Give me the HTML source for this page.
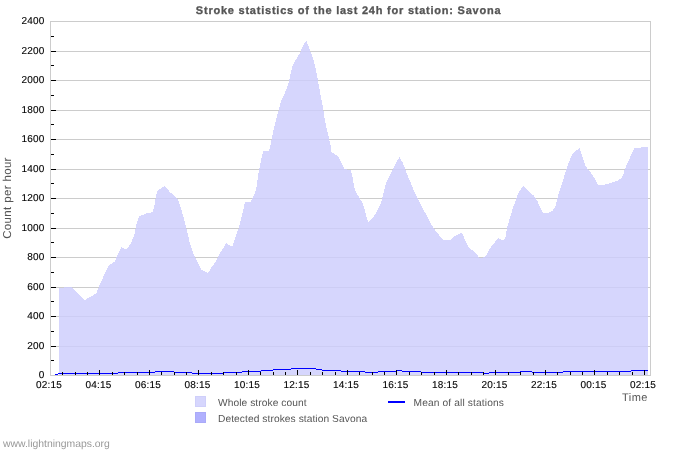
<!DOCTYPE html>
<html><head><meta charset="utf-8"><title>Stroke statistics</title>
<style>
html,body{margin:0;padding:0;background:#fff;}
body{width:700px;height:450px;overflow:hidden;position:relative;font-family:"Liberation Sans",sans-serif;}
svg{position:absolute;left:0;top:0;will-change:transform;text-rendering:geometricPrecision;}
text{font-family:"Liberation Sans",sans-serif;}
</style></head><body>
<svg width="700" height="450" viewBox="0 0 700 450">
<rect x="0" y="0" width="700" height="450" fill="#fff"/>
<g fill="#cccccc" shape-rendering="crispEdges"><rect x="51" y="51" width="599" height="1"/><rect x="51" y="80" width="599" height="1"/><rect x="51" y="110" width="599" height="1"/><rect x="51" y="139" width="599" height="1"/><rect x="51" y="169" width="599" height="1"/><rect x="51" y="198" width="599" height="1"/><rect x="51" y="228" width="599" height="1"/><rect x="51" y="257" width="599" height="1"/><rect x="51" y="287" width="599" height="1"/><rect x="51" y="316" width="599" height="1"/><rect x="51" y="346" width="599" height="1"/></g>
<polygon points="59,375 59,288 64.8,287.45 72,287 78,293.5 84.6,300.1 91.2,296.4 95.5,293.8 97,292 98.1,288.5 102,279.8 105.9,271.2 109,265.2 114.5,261.9 118.3,253.3 121.3,247.1 124.5,248.5 127.3,248.7 131.3,242.3 134.5,234.2 136.7,223.5 139,216.5 143.7,214.5 146.8,213 152.5,212.3 154.5,204.9 156.8,192.3 158.4,190.1 162.3,187.5 164.4,185.8 170,192.2 174.4,195.6 177.2,198.3 178.3,200 180,205 182.2,212.8 184.4,220.6 186.1,227.2 187.8,233.9 189.9,243.3 193.6,254.3 197.2,261.7 201.5,269.6 204.6,271.2 208,272.9 211.3,267.8 215.6,261.7 220.5,252.5 226.3,243.1 230.2,245.8 232.7,246 234.7,239.3 238.7,228 242,215.3 245,202.3 250.7,202 252.7,198 256,190 259,170 263,151.4 269,150.7 270.6,144.4 273.7,128.9 277.6,114.1 280.7,102.4 282.2,98.9 284.4,93.9 286.7,88.3 288.9,81.7 290,76.7 292.2,66.7 293.9,62.8 295.6,60 297.8,56.7 300,53 303.1,45.1 306.5,40.9 309.3,48.2 312.4,56.8 314.8,64.5 316.8,73.9 318.7,84.8 321,97.2 323,107 325,121 328.9,138.1 330.4,144.3 331.5,152.1 334.3,154 337.4,156 339.8,159.1 342.1,164.5 344.4,169.2 350.7,170 352.2,175.4 354.5,187.9 356.2,192.5 359,197.3 361.7,201.3 363.7,206 365.7,214 368.1,222 372.3,218 375.7,214 378.3,208.7 381,203.3 383,195.3 385.9,183.2 399.3,157 402.7,162.7 406,171.3 410,181.3 414,190.7 417.3,198 419,200.7 423.7,210 428.3,218.7 432.3,226.2 435.7,231.2 439.7,235.9 443,240 450.3,240 455,236 461.8,232.8 463.4,236 465.5,241 468,246.5 470,248.5 472,250 475,252.5 478,256 480,258.5 482,258 484.5,257 487,254 489,250 491.5,246 495,242 498.5,238 502,240 504,240.5 505.5,237.2 507,228 509.3,220.2 512.5,209.2 516.4,198.3 518.7,192.1 523.4,186 528.3,190.9 534.1,196 537,200.3 539.9,206.8 542.7,212.6 549.2,212.7 553,210.2 555.7,205.8 558.3,195.1 562.8,180.9 567.2,166.7 571.7,155.1 574.3,152.4 579.4,148 582.3,156.5 585,164.7 587,168 592.3,174.7 595,179.3 598.3,185 603.3,184.8 609.7,183.3 615,181.5 617.7,180.7 621.3,178.3 623.3,174.5 624.5,170.5 626,166.3 628,161.5 630,157.5 632.3,152.5 634.3,148.2 640.3,147.7 641.7,147.1 648,147.1 648,375" fill="#cdcdfd" fill-opacity="0.82" shape-rendering="crispEdges"/>
<g fill="#cccccc" shape-rendering="crispEdges">
<rect x="50" y="21" width="601" height="1"/><rect x="50" y="375" width="601" height="1"/>
<rect x="50" y="21" width="1" height="355"/><rect x="650" y="21" width="1" height="355"/>
</g>
<g fill="#0000ff" shape-rendering="crispEdges"><rect x="55" y="374" width="3" height="1"/><rect x="58" y="373" width="60" height="1"/><rect x="118" y="372" width="37" height="1"/><rect x="155" y="371" width="19" height="1"/><rect x="174" y="372" width="18" height="1"/><rect x="192" y="373" width="31" height="1"/><rect x="223" y="372" width="19" height="1"/><rect x="242" y="371" width="19" height="1"/><rect x="261" y="370" width="12" height="1"/><rect x="273" y="369" width="18" height="1"/><rect x="291" y="368" width="25" height="1"/><rect x="316" y="369" width="6" height="1"/><rect x="322" y="370" width="19" height="1"/><rect x="341" y="371" width="24" height="1"/><rect x="365" y="372" width="13" height="1"/><rect x="378" y="371" width="19" height="1"/><rect x="397" y="370" width="5" height="1"/><rect x="402" y="371" width="19" height="1"/><rect x="421" y="372" width="63" height="1"/><rect x="484" y="373" width="5" height="1"/><rect x="489" y="372" width="31" height="1"/><rect x="520" y="371" width="12" height="1"/><rect x="532" y="372" width="31" height="1"/><rect x="563" y="371" width="68" height="1"/><rect x="631" y="370" width="17" height="1"/></g>
<g fill="#000" shape-rendering="crispEdges"><rect x="51" y="51" width="5" height="1"/><rect x="51" y="80" width="5" height="1"/><rect x="51" y="110" width="5" height="1"/><rect x="51" y="139" width="5" height="1"/><rect x="51" y="169" width="5" height="1"/><rect x="51" y="198" width="5" height="1"/><rect x="51" y="228" width="5" height="1"/><rect x="51" y="257" width="5" height="1"/><rect x="51" y="287" width="5" height="1"/><rect x="51" y="316" width="5" height="1"/><rect x="51" y="346" width="5" height="1"/><rect x="51" y="36" width="3" height="1"/><rect x="51" y="65" width="3" height="1"/><rect x="51" y="95" width="3" height="1"/><rect x="51" y="124" width="3" height="1"/><rect x="51" y="154" width="3" height="1"/><rect x="51" y="183" width="3" height="1"/><rect x="51" y="213" width="3" height="1"/><rect x="51" y="242" width="3" height="1"/><rect x="51" y="272" width="3" height="1"/><rect x="51" y="301" width="3" height="1"/><rect x="51" y="331" width="3" height="1"/><rect x="51" y="360" width="3" height="1"/><rect x="62" y="372" width="1" height="3"/><rect x="75" y="372" width="1" height="3"/><rect x="87" y="372" width="1" height="3"/><rect x="99" y="370" width="1" height="5"/><rect x="112" y="372" width="1" height="3"/><rect x="124" y="372" width="1" height="3"/><rect x="137" y="372" width="1" height="3"/><rect x="149" y="370" width="1" height="5"/><rect x="161" y="372" width="1" height="3"/><rect x="174" y="372" width="1" height="3"/><rect x="186" y="372" width="1" height="3"/><rect x="198" y="370" width="1" height="5"/><rect x="211" y="372" width="1" height="3"/><rect x="223" y="372" width="1" height="3"/><rect x="236" y="372" width="1" height="3"/><rect x="248" y="370" width="1" height="5"/><rect x="260" y="372" width="1" height="3"/><rect x="273" y="372" width="1" height="3"/><rect x="285" y="372" width="1" height="3"/><rect x="297" y="370" width="1" height="5"/><rect x="310" y="372" width="1" height="3"/><rect x="322" y="372" width="1" height="3"/><rect x="335" y="372" width="1" height="3"/><rect x="347" y="370" width="1" height="5"/><rect x="359" y="372" width="1" height="3"/><rect x="372" y="372" width="1" height="3"/><rect x="384" y="372" width="1" height="3"/><rect x="396" y="370" width="1" height="5"/><rect x="409" y="372" width="1" height="3"/><rect x="421" y="372" width="1" height="3"/><rect x="434" y="372" width="1" height="3"/><rect x="446" y="370" width="1" height="5"/><rect x="458" y="372" width="1" height="3"/><rect x="471" y="372" width="1" height="3"/><rect x="483" y="372" width="1" height="3"/><rect x="495" y="370" width="1" height="5"/><rect x="508" y="372" width="1" height="3"/><rect x="520" y="372" width="1" height="3"/><rect x="533" y="372" width="1" height="3"/><rect x="545" y="370" width="1" height="5"/><rect x="557" y="372" width="1" height="3"/><rect x="570" y="372" width="1" height="3"/><rect x="582" y="372" width="1" height="3"/><rect x="594" y="370" width="1" height="5"/><rect x="607" y="372" width="1" height="3"/><rect x="619" y="372" width="1" height="3"/><rect x="632" y="372" width="1" height="3"/><rect x="644" y="370" width="1" height="5"/></g>
<g font-size="10" fill="#000" stroke="#000" stroke-width="0.12" text-anchor="end" letter-spacing="0.2"><text x="44.6" y="23.9">2400</text><text x="44.6" y="53.9">2200</text><text x="44.6" y="82.9">2000</text><text x="44.6" y="112.9">1800</text><text x="44.6" y="141.9">1600</text><text x="44.6" y="171.9">1400</text><text x="44.6" y="200.9">1200</text><text x="44.6" y="230.9">1000</text><text x="44.6" y="259.9">800</text><text x="44.6" y="289.9">600</text><text x="44.6" y="318.9">400</text><text x="44.6" y="348.9">200</text><text x="44.6" y="377.9">0</text></g>
<g font-size="10" fill="#000" stroke="#000" stroke-width="0.12" text-anchor="middle" letter-spacing="0.2"><text x="49.0" y="388">02:15</text><text x="98.5" y="388">04:15</text><text x="148.0" y="388">06:15</text><text x="197.5" y="388">08:15</text><text x="247.0" y="388">10:15</text><text x="296.5" y="388">12:15</text><text x="346.0" y="388">14:15</text><text x="395.5" y="388">16:15</text><text x="445.0" y="388">18:15</text><text x="494.5" y="388">20:15</text><text x="544.0" y="388">22:15</text><text x="593.5" y="388">00:15</text><text x="643.0" y="388">02:15</text></g>
<text x="348.6" y="14" font-size="11" font-weight="bold" fill="#555" stroke="#555" stroke-width="0.3" text-anchor="middle" letter-spacing="0.77">Stroke statistics of the last 24h for station: Savona</text>
<text transform="translate(11,198) rotate(-90)" font-size="11.5" fill="#555" text-anchor="middle" letter-spacing="0.35">Count per hour</text>
<text x="622" y="401" font-size="11" fill="#555" letter-spacing="0.45">Time</text>
<rect x="195.5" y="396.5" width="10" height="10" fill="#d6d6fd" stroke="#cfcffa"/>
<rect x="195.5" y="412.5" width="10" height="10" fill="#b0b0fe" stroke="#aaaaf8"/>
<rect x="388" y="401" width="17" height="2" fill="#0000ff"/>
<g font-size="10.2" fill="#555" letter-spacing="0.08">
<text x="218" y="406">Whole stroke count</text>
<text x="218" y="422">Detected strokes station Savona</text>
<text x="413.6" y="406" letter-spacing="0.13">Mean of all stations</text>
</g>
<text x="3" y="447" font-size="10.4" fill="#999">www.lightningmaps.org</text>
</svg>
</body></html>
